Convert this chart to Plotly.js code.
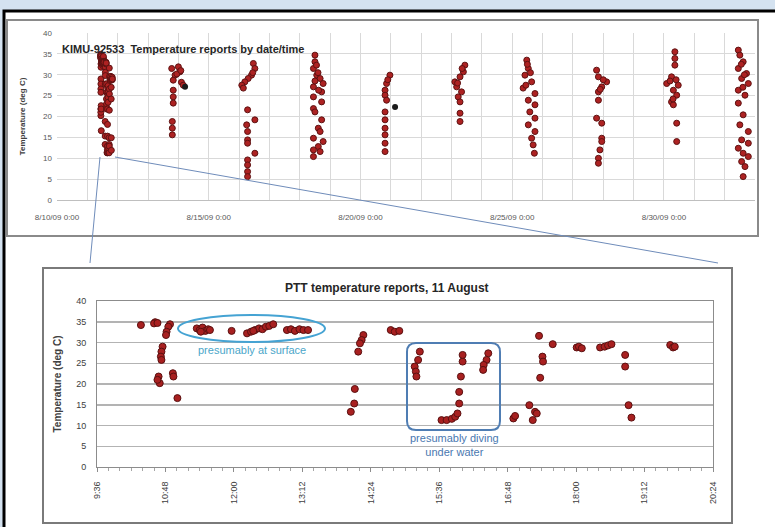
<!DOCTYPE html>
<html><head><meta charset="utf-8">
<script src="https://cdn.plot.ly/plotly-3.0.1.min.js"></script>
<style>html,body{margin:0;padding:0;background:#d4e2f0;}#chart{width:775px;height:527px;}</style>
</head><body><div id="chart"></div>
<script>
// ---- Top chart: day offset from 8/10/09 0:00, temperature (deg C) ----
const topTickVals = [0, 5, 10, 15, 20];
const topTickText = ["8/10/09 0:00", "8/15/09 0:00", "8/20/09 0:00", "8/25/09 0:00", "8/30/09 0:00"];
const topDay = [
  4.00,3.78,4.05,3.89,3.83,4.10,3.83,3.83,3.83,3.80,3.80,3.80,3.95,4.08,4.16,
  6.47,6.52,6.41,6.30,6.19,6.09,6.14,6.45,6.28,6.52,6.25,6.28,6.28,6.28,6.52,6.28,6.28,6.28,6.28,
  8.50,8.50,8.45,8.56,8.67,8.77,8.45,8.72,8.45,8.72,8.45,8.50,8.72,8.61,8.67,8.45,8.77,8.61,8.45,8.67,8.45,8.55,8.60,8.50,8.62,
  10.97,10.86,10.81,10.81,10.86,10.81,10.81,10.81,10.81,10.81,10.81,10.90,
  13.44,13.39,13.28,13.11,13.17,13.33,13.22,13.28,13.28,13.28,13.35,13.20,
  15.48,15.53,15.42,15.64,15.36,15.75,15.53,15.75,15.58,15.75,15.53,15.75,15.64,15.69,15.73,15.50,15.60,15.45,
  17.78,17.84,18.11,17.95,17.84,17.84,17.78,17.95,17.95,17.95,17.89,17.84,17.84,18.00,17.90,
  20.36,20.36,20.36,20.25,20.09,20.47,20.31,20.42,20.25,20.31,20.42,20.42,20.20,20.40,20.30,
  22.45,22.50,22.61,22.45,22.72,22.56,22.78,22.45,22.67,22.45,22.61,22.50,22.78,22.56,22.78,22.45,22.61,22.78,22.56,22.67,22.61,22.55,22.65,22.60
];
const topTemp = [
  31.9,31.5,30.7,29.9,28.7,28.2,26.3,24.7,23.2,18.8,17.2,15.6,30.2,31.0,27.5,
  32.7,31.5,29.9,29.1,28.3,27.5,26.8,30.5,21.6,19.2,18.0,16.4,14.4,13.6,11.2,9.6,8.4,6.8,5.6,
  34.7,33.1,31.5,29.9,29.1,27.9,27.1,25.9,24.7,23.5,21.9,21.1,19.2,17.2,16.4,14.8,14.0,12.8,12.0,11.6,10.4,32.3,30.5,28.5,26.3,
  29.9,27.9,26.3,25.1,23.9,21.1,19.2,17.2,15.6,13.6,11.6,28.8,
  32.3,30.7,29.5,28.3,27.1,25.9,24.7,23.5,20.8,18.8,31.5,28.0,
  33.5,31.5,29.9,28.3,26.8,25.5,23.9,22.8,21.1,19.6,18.0,16.4,14.8,13.2,11.2,32.5,30.5,27.5,
  31.1,29.5,28.3,27.1,25.9,23.9,19.6,18.4,14.8,14.0,12.0,10.0,8.8,28.8,26.5,
  35.5,33.9,32.3,29.5,27.9,27.5,26.3,25.1,23.5,22.8,18.4,14.0,28.5,28.8,24.2,
  35.9,34.7,33.1,31.5,30.3,29.1,27.9,26.3,25.1,23.2,20.4,18.0,16.4,14.4,13.6,12.4,11.2,10.4,9.2,8.0,5.6,32.5,30.0,27.0
];
const darkDay = [4.22, 11.14];
const darkTemp = [27.1, 22.3];

// ---- Bottom chart: 11 August, time of day in hours, temperature ----
const bottomTickVals = [9.6, 10.8, 12.0, 13.2, 14.4, 15.6, 16.8, 18.0, 19.2, 20.4];
const bottomTickText = ["9:36", "10:48", "12:00", "13:12", "14:24", "15:36", "16:48", "18:00", "19:12", "20:24"];
const augDay = 1; // 11 August = day offset 1 from 8/10
const bottomTime = [
  10.37,10.62,10.60,10.66,10.88,10.85,10.82,10.81,10.75,10.73,10.72,10.73,10.68,10.70,10.66,10.93,10.94,11.01,
  11.35,11.40,11.45,11.50,11.55,11.58,11.42,11.96,
  12.23,12.30,12.37,12.44,12.50,12.56,12.62,12.69,12.34,
  12.93,13.00,13.07,13.15,13.22,13.30,
  14.27,14.24,14.21,14.18,14.12,14.11,14.05,14.75,14.82,14.90,
  15.26,15.23,15.17,15.19,15.20,15.64,15.73,15.82,15.88,15.92,15.95,15.95,15.98,16.01,16.01,
  16.46,16.43,16.38,16.37,16.90,16.93,17.18,17.28,17.31,17.24,17.35,17.41,17.42,17.37,17.59,
  18.01,18.05,18.10,18.42,18.50,18.56,18.62,18.86,18.86,18.92,18.97,19.65,19.70,19.73
];
const bottomTemp = [
  34.2,34.9,34.6,34.7,34.4,33.8,32.6,31.8,29.0,27.8,26.6,25.8,21.8,20.2,21.0,22.6,21.8,16.6,
  33.4,33.0,33.6,32.8,33.2,33.0,32.6,32.8,
  32.2,32.6,33.0,33.4,33.2,33.8,34.0,34.4,32.8,
  33.0,33.2,32.8,33.2,33.0,33.0,
  31.8,30.6,29.8,27.8,18.8,15.3,13.3,33.0,32.6,32.8,
  27.8,25.8,24.2,23.0,21.8,11.3,11.3,11.6,12.1,12.9,15.3,18.1,21.8,25.4,27.0,
  27.4,25.8,24.6,23.4,11.7,12.3,14.9,13.3,12.9,11.3,31.6,26.6,25.4,21.5,29.6,
  28.8,29.0,28.6,28.8,29.0,29.3,29.6,27.0,24.2,14.9,11.9,29.4,28.8,29.0
];

const W = 775, H = 527;
const px = x => x / W;
const py = y => 1 - y / H;
const FONT = "Liberation Sans, Arial, sans-serif";
const red = {color: "#ad2222", size: 6, line: {color: "#5e1212", width: 1}};

const traces = [
  {type: "scatter", mode: "markers", x: topDay, y: topTemp, xaxis: "x", yaxis: "y", marker: red, showlegend: false},
  {type: "scatter", mode: "markers", x: bottomTime.map(t => augDay + t / 24), y: bottomTemp, xaxis: "x", yaxis: "y", marker: red, showlegend: false},
  {type: "scatter", mode: "markers", x: darkDay, y: darkTemp, xaxis: "x", yaxis: "y", marker: {color: "#1a1a1a", size: 6}, showlegend: false},
  {type: "scatter", mode: "markers", x: bottomTime, y: bottomTemp, xaxis: "x2", yaxis: "y2",
   marker: {color: "#a82020", size: 7, line: {color: "#5a1010", width: 1}}, showlegend: false}
];

function rrect(x0, y0, x1, y1, r) {
  const X = v => px(v).toFixed(5), Y = v => py(v).toFixed(5);
  return `M${X(x0 + r)},${Y(y0)} L${X(x1 - r)},${Y(y0)} Q${X(x1)},${Y(y0)} ${X(x1)},${Y(y0 + r)} ` +
         `L${X(x1)},${Y(y1 - r)} Q${X(x1)},${Y(y1)} ${X(x1 - r)},${Y(y1)} L${X(x0 + r)},${Y(y1)} ` +
         `Q${X(x0)},${Y(y1)} ${X(x0)},${Y(y1 - r)} L${X(x0)},${Y(y0 + r)} Q${X(x0)},${Y(y0)} ${X(x0 + r)},${Y(y0)} Z`;
}

const shapes = [
  {type: "rect", xref: "paper", yref: "paper", x0: px(4), x1: px(790), y0: py(11), y1: py(540),
   fillcolor: "#ffffff", line: {color: "#000000", width: 3}, layer: "below"},
  {type: "rect", xref: "paper", yref: "paper", x0: px(7), x1: px(758), y0: py(20), y1: py(236),
   line: {color: "#8a8a8a", width: 2}, layer: "below"},
  {type: "rect", xref: "paper", yref: "paper", x0: px(43), x1: px(732), y0: py(268), y1: py(523),
   fillcolor: "#ffffff", line: {color: "#7a7a7a", width: 2}, layer: "below"},
  {type: "line", xref: "paper", yref: "paper", x0: px(100), y0: py(157), x1: px(90), y1: py(263),
   line: {color: "#6f8cba", width: 1}},
  {type: "line", xref: "paper", yref: "paper", x0: px(115), y0: py(157), x1: px(718), y1: py(263),
   line: {color: "#6f8cba", width: 1}},
  {type: "circle", xref: "paper", yref: "paper", x0: px(178), x1: px(325), y0: py(315), y1: py(342),
   line: {color: "#45a3d3", width: 2}},
  {type: "path", xref: "paper", yref: "paper", path: rrect(407, 343, 500, 430, 9),
   line: {color: "#4f7db3", width: 2}}
];

const annotations = [
  {xref: "paper", yref: "paper", x: px(60), y: py(49), xanchor: "left", yanchor: "middle", showarrow: false,
   text: "KIMU-92533  Temperature reports by date/time", font: {family: FONT, size: 11, weight: "bold", color: "#262626"}},
  {xref: "paper", yref: "paper", x: px(387), y: py(288), xanchor: "center", yanchor: "middle", showarrow: false,
   text: "PTT temperature reports, 11 August", font: {family: FONT, size: 12, weight: "bold", color: "#262626"}},
  {xref: "paper", yref: "paper", x: px(252), y: py(350), xanchor: "center", yanchor: "middle", showarrow: false,
   text: "presumably at surface", font: {family: FONT, size: 11, color: "#4ba6c9"}},
  {xref: "paper", yref: "paper", x: px(455), y: py(445), xanchor: "center", yanchor: "middle", showarrow: false,
   text: "presumably diving<br>under water", font: {family: FONT, size: 11, color: "#4a78b0"}}
];

const layout = {
  width: W, height: H,
  margin: {l: 0, r: 0, t: 0, b: 0},
  paper_bgcolor: "#d4e2f0", plot_bgcolor: "rgba(0,0,0,0)",
  font: {family: FONT, color: "#404040"},
  showlegend: false,
  xaxis: {domain: [px(57), px(755)], range: [0, 23], anchor: "y",
    tickmode: "array", tickvals: topTickVals, ticktext: topTickText, tickfont: {size: 8, color: "#595959"},
    showgrid: true, gridcolor: "#d9d9d9", gridwidth: 1, zeroline: false,
    showline: true, linecolor: "#bfbfbf", linewidth: 1, ticks: "", ticklabelstandoff: 9,
    minor: {dtick: 1, tick0: 0, showgrid: true, gridcolor: "#d9d9d9", gridwidth: 1}},
  yaxis: {domain: [py(200), py(33)], range: [0, 40], anchor: "x",
    tickmode: "linear", tick0: 0, dtick: 5, tickfont: {size: 8, color: "#595959"},
    showgrid: true, gridcolor: "#d9d9d9", zeroline: false, showline: false, ticks: "", ticklabelstandoff: 4,
    title: {text: "Temperature (deg C)", font: {size: 8, weight: "bold", color: "#404040"}, standoff: 16}},
  xaxis2: {domain: [px(97), px(713)], range: [9.6, 20.4], anchor: "y2",
    tickmode: "array", tickvals: bottomTickVals, ticktext: bottomTickText, tickangle: -90,
    tickfont: {size: 9, color: "#404040"}, showgrid: false, zeroline: false,
    showline: true, mirror: true, linecolor: "#8c8c8c", linewidth: 1, ticks: "outside", ticklen: 4, tickcolor: "#8c8c8c",
    ticklabelstandoff: 6,
    minor: {dtick: 0.2, tick0: 9.6, ticks: "outside", ticklen: 3, tickcolor: "#a6a6a6", showgrid: false}},
  yaxis2: {domain: [py(467), py(301)], range: [0, 40], anchor: "x2",
    tickmode: "linear", tick0: 0, dtick: 5, tickfont: {size: 9, color: "#404040"},
    showgrid: true, gridcolor: "#b3b3b3", gridwidth: 1.5, zeroline: false,
    showline: true, mirror: true, linecolor: "#8c8c8c", linewidth: 1, ticks: "", ticklabelstandoff: 8,
    title: {text: "Temperature (deg C)", font: {size: 10, weight: "bold", color: "#404040"}, standoff: 12}},
  shapes: shapes,
  annotations: annotations
};

Plotly.newPlot("chart", traces, layout, {displayModeBar: false, staticPlot: true});
</script>
</body></html>
